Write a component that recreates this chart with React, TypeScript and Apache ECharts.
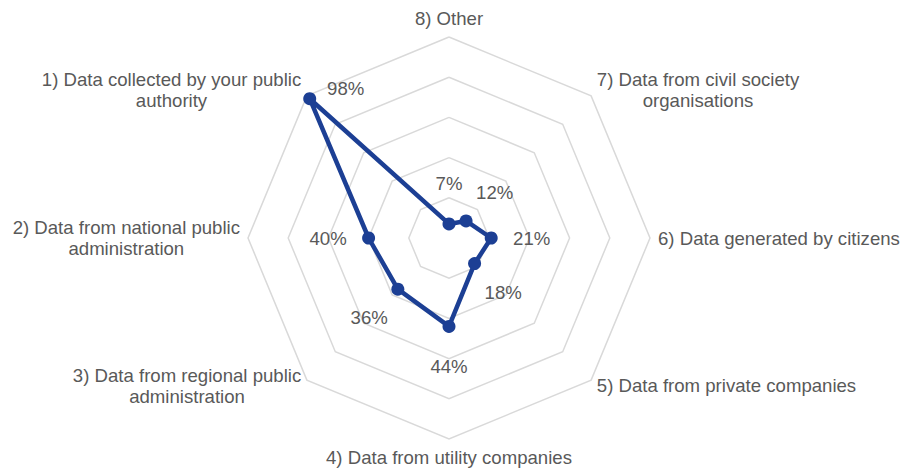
import React, { useEffect, useRef } from "react";
import * as echarts from "echarts";

// Indicators in ECharts order (first at top, then counter-clockwise)
const categories: string[] = [
  "8) Other",
  "1) Data collected by your public\nauthority",
  "2) Data from national public\nadministration",
  "3) Data from regional public\nadministration",
  "4) Data from utility companies",
  "5) Data from private companies",
  "6) Data generated by citizens",
  "7) Data from civil society\norganisations",
];
const values: number[] = [7, 98, 40, 36, 44, 18, 21, 12];
const axisMin = 0;
const axisMax = 100;
const ringCount = 5;

const FONT = "'Liberation Sans', Arial, sans-serif";
const FONT_SIZE = 18.6;
const TEXT_COLOR = "#595959";
const LINE_COLOR = "#1c3f94";

export default function App() {
  const ref = useRef<HTMLDivElement>(null);
  useEffect(() => {
    const el = ref.current;
    if (!el) return;
    const chart = echarts.init(el, null, { renderer: "svg" });
    const CX = 449;
    const CY = 238;
    const R = 201;
    const LABEL_DIST = 40.5;

    const option: any = {
      animation: false,
      backgroundColor: "#ffffff",
      textStyle: { fontFamily: FONT },
      radar: {
        center: [CX, CY],
        radius: R,
        startAngle: 90,
        shape: "polygon",
        splitNumber: ringCount,
        indicator: categories.map((name) => ({ name, min: axisMin, max: axisMax })),
        axisName: {
          color: TEXT_COLOR,
          fontSize: FONT_SIZE,
          fontFamily: FONT,
          formatter: (name: string) =>
            name
              .split("\n")
              .map((l) => `{n|${l}}`)
              .join("\n"),
          rich: {
            n: {
              align: "center",
              fontSize: FONT_SIZE,
              lineHeight: 21,
              color: TEXT_COLOR,
              fontFamily: FONT,
            },
          },
        },
        nameGap: 8,
        axisLine: { show: false },
        axisTick: { show: false },
        axisLabel: { show: false },
        splitArea: { show: false },
        splitLine: { lineStyle: { color: "#d9d9d9", width: 1.5 } },
      },
      series: [
        {
          type: "radar",
          symbol: "circle",
          symbolSize: 13,
          lineStyle: { color: LINE_COLOR, width: 4.5 },
          itemStyle: { color: LINE_COLOR },
          label: {
            show: true,
            formatter: "{c}%",
            fontSize: FONT_SIZE,
            color: TEXT_COLOR,
            fontFamily: FONT,
          },
          labelLayout: (p: any) => {
            const sx = p.rect.x + p.rect.width / 2;
            const sy = p.rect.y + p.rect.height / 2;
            const dx = sx - CX;
            const dy = sy - CY;
            const len = Math.sqrt(dx * dx + dy * dy) || 1;
            let x: number;
            let y: number;
            if (len > 0.85 * R) {
              x = sx + 36;
              y = sy - 10.5;
            } else {
              x = sx + (dx / len) * LABEL_DIST;
              y = sy + (dy / len) * LABEL_DIST;
            }
            return { x, y, align: "center", verticalAlign: "middle" };
          },
          data: [{ value: values, name: "Share" }],
        },
      ],
    };
    chart.setOption(option);
    return () => {
      chart.dispose();
    };
  }, []);
  return (
    <div
      ref={ref}
      style={{ position: "fixed", left: 0, top: 0, width: 905, height: 470 }}
    />
  );
}
